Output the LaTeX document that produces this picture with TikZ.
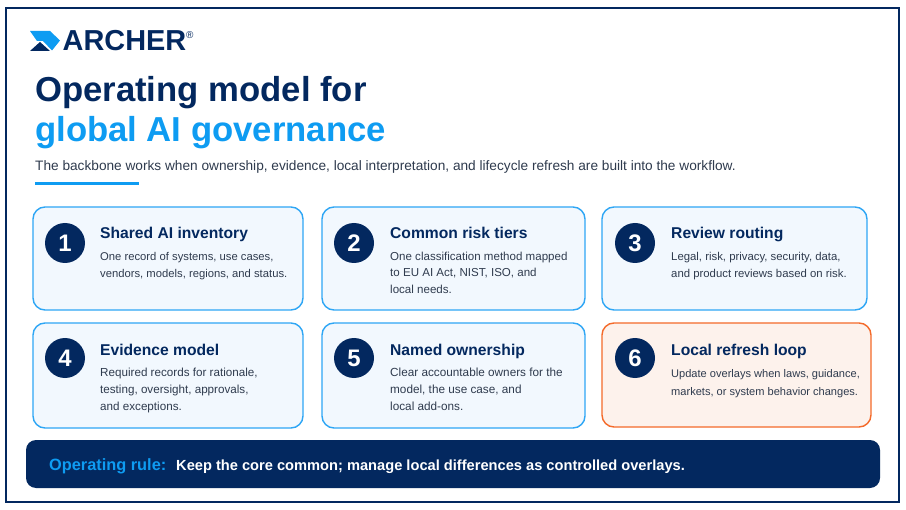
\documentclass[tikz,border=0pt]{standalone}
\usepackage{fontspec}
\setmainfont{Liberation Sans}
\definecolor{navy}{HTML}{03285F}
\definecolor{sky}{HTML}{0E9CF2}
\definecolor{cardblue}{HTML}{F2F8FE}
\definecolor{cardedge}{HTML}{2EA6F5}
\definecolor{cardpeach}{HTML}{FDF2EC}
\definecolor{peachedge}{HTML}{F46A2A}
\definecolor{bodygrey}{HTML}{2F3B4E}
\newcommand{\bodysize}[1]{\fontsize{#1}{16.7}\selectfont}
\tikzset{
  x=1bp,y=-1bp,
  framebox/.style={draw=navy,line width=2bp,fill=white},
  card/.style={draw=cardedge,line width=1.4bp,fill=cardblue,rounded corners=12bp},
  cardalt/.style={draw=peachedge,line width=1.4bp,fill=cardpeach,rounded corners=12bp},
  badge/.style={circle,fill=navy,text=white,minimum size=40bp,inner sep=0pt,font=\fontsize{24}{24}\selectfont\bfseries},
  cardtitle/.style={anchor=base west,inner sep=0pt,text=navy,font=\fontsize{15.7}{18}\selectfont\bfseries},
  cardbody/.style={anchor=base west,inner sep=0pt,text=bodygrey,align=left},
  headline/.style={anchor=base west,inner sep=0pt,font=\fontsize{34.8}{36}\selectfont\bfseries},
}
\begin{document}
\begin{tikzpicture}
\useasboundingbox (0,0) rectangle (906,510);
\fill[white] (0,0) rectangle (906,510);
\path[framebox] (6,8) rectangle (899,502);
% logo
\fill[sky] (30,31) -- (50,31) -- (60,40.5) -- (52,50.5) -- (43,41) -- (37,41) -- cycle;
\fill[navy] (30,51) -- (40,42) -- (50,51) -- cycle;
\node[anchor=base west,inner sep=0pt,text=navy,font=\fontsize{29}{29}\selectfont\bfseries] (logo) at (62.5,51) {ARCHER};
\node[anchor=base west,inner sep=0pt,text=navy,font=\fontsize{10}{10}\selectfont] (reg) at (186,39) {®};
% heading
\node[headline,text=navy] (h1) at (35,102) {Operating model for};
\node[headline,text=sky] (h2) at (35,142) {global AI governance};
\node[anchor=base west,inner sep=0pt,text=bodygrey,font=\fontsize{13.72}{16}\selectfont] (sub) at (35,171) {The backbone works when ownership, evidence, local interpretation, and lifecycle refresh are built into the workflow.};
\fill[sky] (35,182.5) rectangle (139,185.5);
% cards
\path[card] (33,207) rectangle (303,310);
\path[card] (322,207) rectangle (585,310);
\path[card] (602,207) rectangle (867,310);
\path[card] (33,323) rectangle (303,428);
\path[card] (322,323) rectangle (585,428);
\path[cardalt] (602,323) rectangle (871,427);
\node[badge] (b1) at (65,243) {1};
\node[badge] (b2) at (354,243) {2};
\node[badge] (b3) at (635,243) {3};
\node[badge] (b4) at (65,358) {4};
\node[badge] (b5) at (354,358) {5};
\node[badge] (b6) at (635,358) {6};
\node[cardtitle] (t1) at (100,239) {Shared AI inventory};
\node[cardtitle] (t2) at (390,239) {Common risk tiers};
\node[cardtitle] (t3) at (671,239) {Review routing};
\node[cardtitle] (t4) at (100,356) {Evidence model};
\node[cardtitle] (t5) at (390,356) {Named ownership};
\node[cardtitle] (t6) at (671,356) {Local refresh loop};
\node[cardbody,font=\bodysize{11.3}] (c1) at (100,277.5) {One record of systems, use cases,\\vendors, models, regions, and status.};
\node[cardbody,font=\bodysize{11.6}] (c2) at (390,293.5) {One classification method mapped\\to EU AI Act, NIST, ISO, and\\local needs.};
\node[cardbody,font=\bodysize{11.4}] (c3) at (671,277.5) {Legal, risk, privacy, security, data,\\and product reviews based on risk.};
\node[cardbody,font=\bodysize{11.7}] (c4) at (100,410) {Required records for rationale,\\testing, oversight, approvals,\\and exceptions.};
\node[cardbody,font=\bodysize{11.8}] (c5) at (390,410) {Clear accountable owners for the\\model, the use case, and\\local add-ons.};
\node[cardbody,font=\fontsize{11.1}{17.4}\selectfont] (c6) at (671,395) {Update overlays when laws, guidance,\\markets, or system behavior changes.};
% rule bar
\path[fill=navy,rounded corners=10bp] (26,440) rectangle (880,488);
\node[anchor=base west,inner sep=0pt,text=sky,font=\fontsize{16.4}{18}\selectfont\bfseries] (r1) at (49,470) {Operating rule:};
\node[anchor=base west,inner sep=0pt,text=white,font=\fontsize{14.7}{18}\selectfont\bfseries] (r2) at (176,470) {Keep the core common; manage local differences as controlled overlays.};
\end{tikzpicture}
\end{document}
